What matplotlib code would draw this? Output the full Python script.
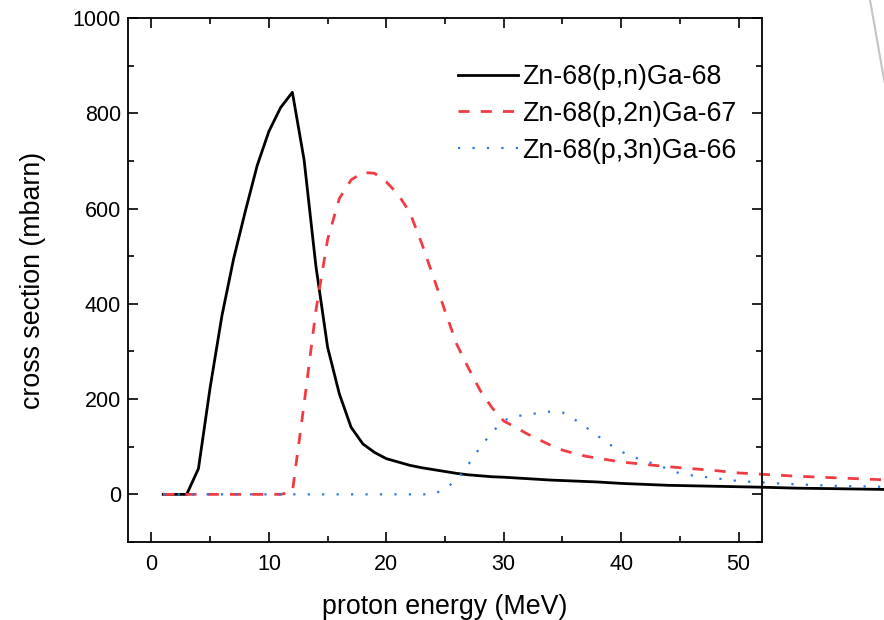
import matplotlib.pyplot as plt
from matplotlib.lines import Line2D
from matplotlib.ticker import MultipleLocator

# Anregungsfunktionen Zn-68 + p
energy_pn = [1, 2, 3, 4, 5, 6, 7, 8, 9, 10, 11, 12, 13, 14, 15, 16, 17, 18, 19, 20,
             21, 22, 23, 24, 25, 26, 27, 28, 29, 30, 32, 34, 36, 38, 40, 42, 44, 46,
             48, 50, 52, 55, 58, 62, 63]
xs_pn = [0, 0, 0, 54, 225, 375, 495, 595, 690, 762, 812, 844, 702, 480, 309, 211,
         141, 106, 88, 75, 68, 61, 56, 52, 48, 44, 41, 39, 37, 36, 33, 30, 28, 26,
         23, 21, 19, 18, 17, 16, 15, 13, 12, 10.5, 10]

energy_p2n = [1, 2, 3, 4, 5, 6, 7, 8, 9, 10, 11, 12, 13, 14, 15, 16, 17, 18, 19, 20,
              21, 22, 23, 24, 25, 26, 27, 28, 29, 30, 31, 32, 33, 34, 35, 36, 37, 38,
              39, 40, 42, 44, 46, 48, 50, 55, 60, 63]
xs_p2n = [0, 0, 0, 0, 0, 0, 0, 0, 0, 0, 0, 5, 190, 385, 535, 621, 660, 676, 674,
          656, 630, 592, 528, 457, 385, 315, 265, 218, 182, 154, 141, 127, 115, 103,
          93, 86, 80, 76, 72, 68, 63, 58, 54, 50, 45, 38, 33, 30]

energy_p3n = [1, 2, 3, 4, 5, 6, 7, 8, 9, 10, 11, 12, 13, 14, 15, 16, 17, 18, 19, 20,
              21, 22, 23, 24, 25, 26, 27, 28, 29, 30, 31, 32, 33, 34, 35, 36, 37, 38,
              39, 40, 41, 42, 43, 44, 45, 46, 47, 48, 49, 50, 52, 54, 56, 58, 60, 63]
xs_p3n = [0, 0, 0, 0, 0, 0, 0, 0, 0, 0, 0, 0, 0, 0, 0, 0, 0, 0, 0, 0, 0, 0, 0, 0,
          12, 30, 63, 99, 130, 155, 164, 167, 171, 174, 172, 158, 141, 123, 105, 90,
          79, 70, 63, 53, 44, 40, 37, 34, 31, 28, 25, 22, 20, 18, 17, 15.5]

plt.rcParams['font.family'] = 'Liberation Sans'
fig = plt.figure(figsize=(8.84, 6.2), dpi=100)
ax = fig.add_axes([128 / 884, 78 / 620, 634 / 884, 524 / 620])

ax.plot(energy_pn, xs_pn, color='black', lw=2, label='Zn-68(p,n)Ga-68', clip_on=False)
ax.plot(energy_p2n, xs_p2n, color='#f03c42', lw=2, dashes=(4, 4),
        label='Zn-68(p,2n)Ga-67', clip_on=False)
ax.plot(energy_p3n, xs_p3n, color='#2a78e4', lw=1.6, dashes=(1, 5.5),
        label='Zn-68(p,3n)Ga-66', clip_on=False)

ax.set_xlim(-2, 52)
ax.set_ylim(-100, 1000)
ax.xaxis.set_major_locator(MultipleLocator(10))
ax.xaxis.set_minor_locator(MultipleLocator(5))
ax.set_yticks([0, 200, 400, 600, 800, 1000])
ax.yaxis.set_minor_locator(MultipleLocator(100))
ax.tick_params(which='both', direction='in', top=True, right=True, width=1.2,
               labelsize=15.5)
ax.tick_params(which='major', length=7)
ax.tick_params(which='minor', length=4)
ax.tick_params(axis='x', pad=9)
ax.tick_params(axis='y', pad=5)
for s in ax.spines.values():
    s.set_linewidth(1.3)

ax.set_xlabel('proton energy (MeV)', fontsize=19.3, labelpad=13)
ax.set_ylabel('cross section (mbarn)', fontsize=19.3, labelpad=19)

ax.legend(loc='upper left', bbox_to_anchor=(0.52, 0.912), frameon=False,
          fontsize=19.3, handlelength=2.25, handletextpad=0.15, labelspacing=0.4,
          borderaxespad=0, borderpad=0)

# graue Linie oben rechts
fig.add_artist(Line2D([870 / 884, 884.5 / 884], [1, 1 - 82 / 620],
                      color='#c4c4c4', lw=1.5, transform=fig.transFigure))

fig.savefig('out.png', dpi=100)
